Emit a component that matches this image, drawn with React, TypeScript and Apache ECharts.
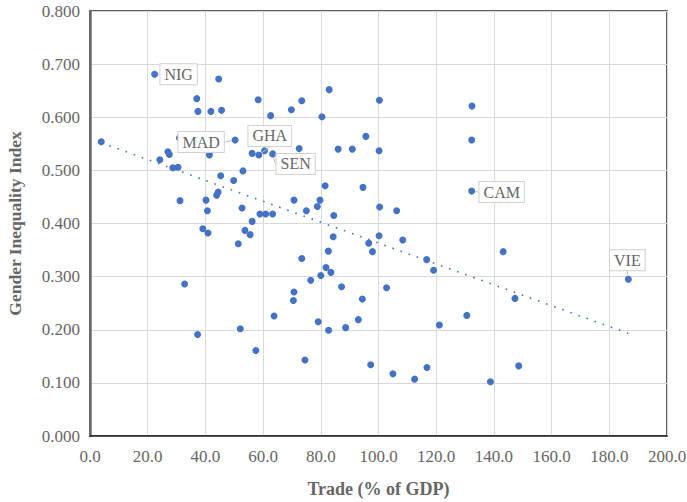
import React, { useEffect, useRef } from "react";
import * as echarts from "echarts";

// Unlabelled countries: trade (% of GDP) and Gender Inequality Index
const trade = [
  44.6, 37.0, 37.4, 41.9, 45.6, 58.3, 62.6, 73.4, 69.8, 82.9, 80.4, 100.3, 132.4, 132.3, 95.6,
  3.9, 31.0, 41.4, 27.0, 27.5, 24.2, 56.2, 60.5, 28.7, 30.5, 45.3, 53.0, 49.8, 72.5, 86.0,
  90.9, 100.2, 81.5, 94.6, 31.2, 40.2, 43.9, 44.4, 40.7, 52.7, 56.2, 58.9, 60.9, 63.3, 39.1,
  40.9, 53.7, 55.5, 51.4, 70.7, 79.7, 75.0, 78.8, 84.5, 100.4, 106.3, 84.3, 100.2, 96.6, 97.9,
  108.4, 116.7, 119.1, 82.6, 73.4, 81.8, 83.5, 80.0, 76.5, 87.2, 102.8, 70.7, 70.5, 94.4, 143.2,
  147.3, 32.8, 63.8, 79.1, 93.0, 88.6, 82.7, 121.1, 130.6, 52.1, 37.3, 57.5, 74.5, 97.3, 105.0,
  112.5, 116.8, 138.8, 148.6,
];
const gii = [
  0.672, 0.635, 0.611, 0.611, 0.613, 0.633, 0.603, 0.631, 0.614, 0.652, 0.601, 0.632, 0.621, 0.557, 0.564,
  0.554, 0.561, 0.529, 0.535, 0.530, 0.520, 0.532, 0.537, 0.505, 0.506, 0.490, 0.499, 0.481, 0.541, 0.540,
  0.540, 0.537, 0.471, 0.468, 0.443, 0.444, 0.453, 0.459, 0.424, 0.429, 0.404, 0.418, 0.418, 0.418, 0.390,
  0.382, 0.387, 0.379, 0.362, 0.444, 0.444, 0.424, 0.432, 0.415, 0.431, 0.424, 0.375, 0.377, 0.363, 0.347,
  0.369, 0.332, 0.312, 0.348, 0.334, 0.317, 0.308, 0.302, 0.293, 0.281, 0.279, 0.271, 0.255, 0.258, 0.347,
  0.259, 0.286, 0.226, 0.215, 0.219, 0.204, 0.199, 0.209, 0.227, 0.202, 0.191, 0.161, 0.143, 0.134, 0.117,
  0.107, 0.129, 0.102, 0.132,
];

// Labelled countries
const labelNames = ["NIG", "MAD", "GHA", "SEN", "CAM", "VIE"];
const labelTrade = [22.4, 50.3, 58.5, 63.3, 132.3, 186.6];
const labelGii = [0.681, 0.557, 0.529, 0.531, 0.461, 0.295];

// Linear trendline end points
const trendTrade = [3.9, 186.6];
const trendGii = [0.552, 0.193];

const xTicks = { min: 0, max: 200, interval: 20 };
const yTicks = { min: 0, max: 0.8, interval: 0.1 };

// label offsets (style only)
const labelOffsets = [
  [24, 0],
  [-34, 2],
  [11, -19],
  [23, 10],
  [30, 1],
  [-1, -19],
];

const BLUE = "#4472C4";
const GRAY = "#666666";
const FONT = "'Liberation Serif', 'Times New Roman', serif";

export default function App() {
  const ref = useRef<HTMLDivElement>(null);
  useEffect(() => {
    if (!ref.current) return;
    const chart = echarts.init(ref.current, undefined, { renderer: "svg" });
    const pts = trade.map((t, i) => [t, gii[i]]);
    const lpts = labelTrade.map((t, i) => ({
      value: [t, labelGii[i]],
      name: labelNames[i],
    }));
    chart.setOption({
      animation: false,
      backgroundColor: "#ffffff",
      textStyle: { fontFamily: FONT },
      grid: {
        left: 90,
        right: 20,
        top: 11,
        bottom: 66,
        outerBoundsMode: "none",
        containLabel: false,
        show: true,
        borderColor: "#262626",
        borderWidth: 1.5,
      },
      xAxis: {
        type: "value",
        ...xTicks,
        name: "Trade (% of GDP)",
        nameLocation: "middle",
        nameGap: 44,
        nameTextStyle: { color: GRAY, fontSize: 18, fontWeight: "bold", fontFamily: FONT },
        axisLine: { show: true, lineStyle: { color: "#262626", width: 1.5 } },
        axisTick: { show: false },
        axisLabel: {
          color: GRAY,
          fontSize: 17,
          fontFamily: FONT,
          margin: 12,
          formatter: (v: number) => v.toFixed(1),
        },
        splitLine: { show: true, lineStyle: { color: "#d9d9d9", width: 1 } },
      },
      yAxis: {
        type: "value",
        ...yTicks,
        name: "Gender Inequality Index",
        nameLocation: "middle",
        nameGap: 66,
        nameTextStyle: { color: GRAY, fontSize: 17.5, fontWeight: "bold", fontFamily: FONT },
        axisLine: { show: true, lineStyle: { color: "#6b6b6b", width: 2.5 } },
        axisTick: { show: false },
        axisLabel: {
          color: GRAY,
          fontSize: 17,
          fontFamily: FONT,
          margin: 10,
          formatter: (v: number) => v.toFixed(3),
        },
        splitLine: { show: true, lineStyle: { color: "#d9d9d9", width: 1 } },
      },
      series: [
        {
          type: "line",
          data: trendTrade.map((t, i) => [t, trendGii[i]]),
          showSymbol: false,
          symbol: "none",
          lineStyle: { color: BLUE, width: 1.6, type: [1.6, 7] },
          z: 1,
        },
        {
          type: "scatter",
          data: pts,
          symbolSize: 7,
          itemStyle: { color: BLUE, opacity: 1 },
          z: 3,
        },
        {
          type: "scatter",
          data: lpts,
          symbolSize: 7,
          itemStyle: { color: BLUE, opacity: 1 },
          z: 4,
          label: {
            show: true,
            position: "inside",
            formatter: (p: any) => p.name,
            color: GRAY,
            fontSize: 16,
            fontFamily: FONT,
            backgroundColor: "#ffffff",
            borderColor: "#d0d0d0",
            borderWidth: 1,
            padding: [3, 4, 1, 4],
          },
          labelLine: { show: true, lineStyle: { color: "#bfbfbf", width: 1 } },
          labelLayout: (params: any) => {
            const o = labelOffsets[params.dataIndex] || [0, 0];
            return { dx: o[0], dy: o[1] };
          },
        },
      ],
    });
    return () => chart.dispose();
  }, []);
  return (
    <div
      ref={ref}
      style={{ position: "fixed", left: 0, top: 0, width: 687, height: 502 }}
    />
  );
}
